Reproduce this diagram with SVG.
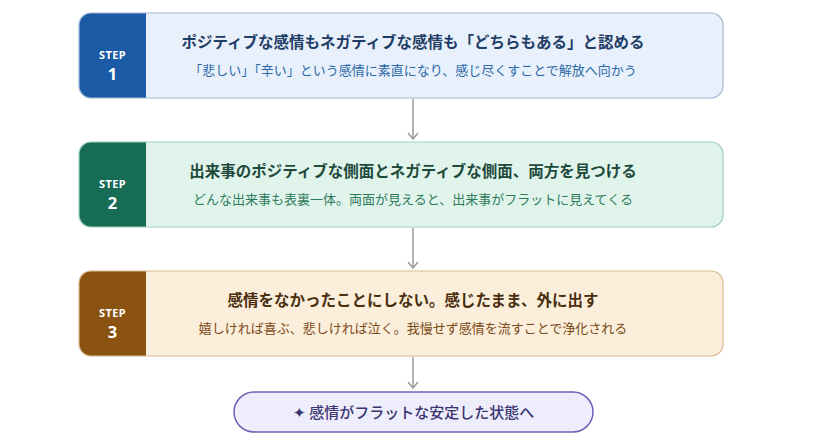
<svg xmlns="http://www.w3.org/2000/svg" width="840" height="441" viewBox="0 0 840 441">
<defs>
<style>
.jp{font-family:"Noto Sans CJK JP","Noto Sans",sans-serif;}
.title{font-size:15.5px;font-weight:700;text-anchor:middle;}
.sub{font-size:13px;font-weight:400;text-anchor:middle;}
.stp{font-family:"Noto Sans","Open Sans",sans-serif;fill:#ffffff;text-anchor:middle;font-weight:700;}
.stpl{font-size:11px;letter-spacing:0.4px;}
.stpn{font-size:16.5px;}
.conn{stroke:#9a9a9a;stroke-width:1.5;fill:none;}
</style>
<marker id="arr" viewBox="0 0 12 12" refX="11" refY="6" markerWidth="12" markerHeight="12" markerUnits="userSpaceOnUse" orient="auto">
<path d="M5,1 L11,6 L5,11" fill="none" stroke="#9a9a9a" stroke-width="1.5"/>
</marker>
</defs>
<rect width="840" height="441" fill="#ffffff"/>

<g id="connectors">
<line class="conn" x1="413" y1="99" x2="413" y2="139" marker-end="url(#arr)"/>
<line class="conn" x1="413" y1="228" x2="413" y2="268" marker-end="url(#arr)"/>
<line class="conn" x1="413" y1="357" x2="413" y2="388" marker-end="url(#arr)"/>
</g>

<g id="step1">
<rect x="79" y="13" width="644" height="85" rx="12" fill="#e8f1fb"/>
<path d="M91,13 H146 V98 H91 A12,12 0 0 1 79,86 V25 A12,12 0 0 1 91,13 Z" fill="#1b5aa4"/>
<rect x="79" y="13" width="644" height="85" rx="12" fill="none" stroke="#9fbad8" stroke-width="1.2"/>
<text class="stp stpl" x="112.5" y="58.5">STEP</text>
<text class="stp stpn" x="112.5" y="79.5">1</text>
<text class="jp title" x="413" y="48" fill="#1f3d66">ポジティブな感情もネガティブな感情も「どちらもある」と認める</text>
<text class="jp sub" x="413" y="75" fill="#2c68a8">「悲しい」「辛い」という感情に素直になり、感じ尽くすことで解放へ向かう</text>
</g>

<g id="step2">
<rect x="79" y="142" width="644" height="85" rx="12" fill="#e1f4ec"/>
<path d="M91,142 H146 V227 H91 A12,12 0 0 1 79,215 V154 A12,12 0 0 1 91,142 Z" fill="#176c55"/>
<rect x="79" y="142" width="644" height="85" rx="12" fill="none" stroke="#9dcfb9" stroke-width="1.2"/>
<text class="stp stpl" x="112.5" y="187.5">STEP</text>
<text class="stp stpn" x="112.5" y="208.5">2</text>
<text class="jp title" x="413" y="177" fill="#1d4a3b">出来事のポジティブな側面とネガティブな側面、両方を見つける</text>
<text class="jp sub" x="413" y="204" fill="#2e7a5c">どんな出来事も表裏一体。両面が見えると、出来事がフラットに見えてくる</text>
</g>

<g id="step3">
<rect x="79" y="271" width="644" height="85" rx="12" fill="#fbeedb"/>
<path d="M91,271 H146 V356 H91 A12,12 0 0 1 79,344 V283 A12,12 0 0 1 91,271 Z" fill="#8a5311"/>
<rect x="79" y="271" width="644" height="85" rx="12" fill="none" stroke="#d9ba90" stroke-width="1.2"/>
<text class="stp stpl" x="112.5" y="316.5">STEP</text>
<text class="stp stpn" x="112.5" y="337.5">3</text>
<text class="jp title" x="413" y="306" fill="#4a2e0f">感情をなかったことにしない。感じたまま、外に出す</text>
<text class="jp sub" x="413" y="333" fill="#7a4a15">嬉しければ喜ぶ、悲しければ泣く。我慢せず感情を流すことで浄化される</text>
</g>

<g id="result">
<rect x="234" y="392" width="359" height="40" rx="20" fill="#eeedfb" stroke="#6b62b8" stroke-width="1.5"/>
<text class="jp" x="413.5" y="417.5" font-size="15" font-weight="500" text-anchor="middle" fill="#3a3470">✦ 感情がフラットな安定した状態へ</text>
</g>
</svg>
